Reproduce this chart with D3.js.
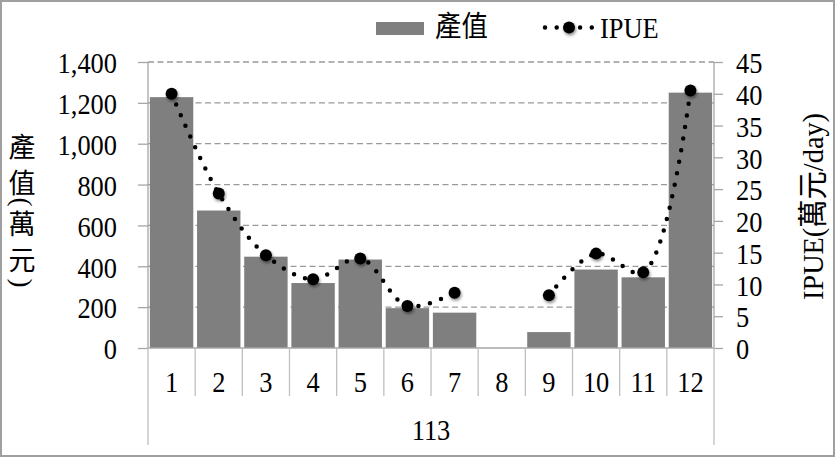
<!DOCTYPE html>
<html><head><meta charset="utf-8">
<script src="https://cdn.jsdelivr.net/npm/d3@7"></script>
<style>body{margin:0;background:#fff}svg{display:block}</style>
</head><body>
<svg id="c" width="835" height="457"></svg>
<script>
const categories = ["1","2","3","4","5","6","7","8","9","10","11","12"];
const groupLabel = "113";
const outputValues = [1228, 673, 447, 318, 433, 195, 173, 0, 78, 384, 346, 1250];
const ipueValues = [40.0, 24.3, 14.6, 10.8, 14.1, 6.6, 8.7, null, 8.3, 14.85, 11.9, 40.5];
const leftTicks = [0, 200, 400, 600, 800, 1000, 1200, 1400];
const rightTicks = [0, 5, 10, 15, 20, 25, 30, 35, 40, 45];
const seriesNames = ["產值", "IPUE"];
const leftTitle = "產值(萬元)";
const rightTitle = "IPUE(萬元/day)";

const W = 835, H = 457;
const X0 = 148, X1 = 714, YT = 62, YB = 348;
const FONT = "'Liberation Serif','Noto Sans CJK TC',serif";
const FS = 29, SQ = 0.91;
const svg = d3.select("#c");

function squeeze(sel, k) {
  sel.each(function () {
    const L = this.getComputedTextLength();
    d3.select(this).attr("textLength", L * k).attr("lengthAdjust", "spacingAndGlyphs");
  });
}

const defs = svg.append("defs");
const f = defs.append("filter").attr("id","sh").attr("x","-50%").attr("y","-50%").attr("width","200%").attr("height","200%");
f.append("feDropShadow").attr("dx",1).attr("dy",2).attr("stdDeviation",1.6).attr("flood-color","#000").attr("flood-opacity",0.45);

svg.append("rect").attr("x",1).attr("y",1).attr("width",W-2).attr("height",H-2)
  .attr("fill","#fff").attr("stroke","#a0a0a0").attr("stroke-width",2);

const x = d3.scaleBand().domain(categories).range([X0, X1]).paddingInner(0.08).paddingOuter(0.04);
const yL = d3.scaleLinear().domain([0, 1400]).range([YB, YT]);
const yR = d3.scaleLinear().domain([0, 45]).range([YB, YT]);

// gridlines
svg.append("g").selectAll("line").data(leftTicks.filter(d => d > 0)).join("line")
  .attr("x1", X0).attr("x2", X1).attr("y1", d => yL(d)).attr("y2", d => yL(d))
  .attr("stroke","#9a9a9a").attr("stroke-width",1.3).attr("stroke-dasharray","6,3.5");

// left axis
const gl = svg.append("g").attr("transform",`translate(${X0},0)`)
  .call(d3.axisLeft(yL).tickValues(leftTicks).tickSize(10).tickPadding(21).tickFormat(d3.format(",")));
gl.select(".domain").attr("stroke","#a6a6a6").attr("stroke-width",1.3).attr("d",`M0,${YT}V${YB}`);
gl.selectAll(".tick line").attr("stroke","#a6a6a6").attr("stroke-width",1.3);
gl.selectAll("text").attr("font-family",FONT).attr("font-size",FS).attr("fill","#000").attr("dy","0.37em").call(squeeze, SQ);

// right axis
const gr = svg.append("g").attr("transform",`translate(${X1},0)`)
  .call(d3.axisRight(yR).tickValues(rightTicks).tickSize(9).tickPadding(13));
gr.select(".domain").attr("stroke","#a6a6a6").attr("stroke-width",1.3).attr("d",`M0,${YT}V${YB}`);
gr.selectAll(".tick line").attr("stroke","#a6a6a6").attr("stroke-width",1.3);
gr.selectAll("text").attr("font-family",FONT).attr("font-size",FS).attr("fill","#000").attr("dy","0.37em").call(squeeze, SQ);

// bars
svg.append("g").selectAll("rect").data(categories).join("rect")
  .attr("x", d => x(d)).attr("width", x.bandwidth())
  .attr("y", (d,i) => yL(outputValues[i])).attr("height", (d,i) => YB - yL(outputValues[i]))
  .attr("fill","#7f7f7f");

// category axis
svg.append("line").attr("x1",X0).attr("x2",X1).attr("y1",YB).attr("y2",YB).attr("stroke","#a6a6a6").attr("stroke-width",1.3);
svg.append("g").selectAll("line").data(categories.slice(1)).join("line")
  .attr("x1", d => x(d) - x.step()*x.paddingInner()/2).attr("x2", d => x(d) - x.step()*x.paddingInner()/2)
  .attr("y1", YB).attr("y2", 396).attr("stroke","#bfbfbf").attr("stroke-width",1.3);
[X0, X1].forEach(v => svg.append("line").attr("x1",v).attr("x2",v).attr("y1",YB).attr("y2",445)
  .attr("stroke","#bfbfbf").attr("stroke-width",1.3));
svg.append("g").selectAll("text").data(categories).join("text")
  .attr("x", d => x(d) + x.bandwidth()/2).attr("y", 392).attr("text-anchor","middle")
  .attr("font-family",FONT).attr("font-size",FS).text(d => d).call(squeeze, SQ);
svg.append("text").attr("x",(X0+X1)/2).attr("y",440).attr("text-anchor","middle")
  .attr("font-family",FONT).attr("font-size",FS).text(groupLabel).call(squeeze, SQ);

// IPUE line
const pts = categories.map((c,i) => ({c, v: ipueValues[i]}));
const line = d3.line().defined(d => d.v != null)
  .x(d => x(d.c) + x.bandwidth()/2).y(d => yR(d.v)).curve(d3.curveCatmullRom.alpha(0.5));
svg.append("path").datum(pts).attr("d", line).attr("fill","none")
  .attr("stroke","#000").attr("stroke-width",4.5).attr("stroke-linecap","round").attr("stroke-dasharray","0,11.7");
svg.append("g").selectAll("circle").data(pts.filter(d => d.v != null)).join("circle")
  .attr("cx", d => x(d.c) + x.bandwidth()/2).attr("cy", d => yR(d.v)).attr("r",6)
  .attr("fill","#000").attr("filter","url(#sh)");

// legend
const lg = svg.append("g");
lg.append("rect").attr("x",376).attr("y",22).attr("width",48).attr("height",13).attr("fill","#7f7f7f");
lg.append("text").attr("x",435).attr("y",37).attr("font-family",FONT).attr("font-size",FS).text(seriesNames[0]).call(squeeze, SQ);
lg.append("line").attr("x1",545).attr("x2",592).attr("y1",27.5).attr("y2",27.5).attr("stroke","#000")
  .attr("stroke-width",4.5).attr("stroke-linecap","round").attr("stroke-dasharray","0,11.7");
lg.append("circle").attr("cx",569).attr("cy",27.5).attr("r",6).attr("fill","#000").attr("filter","url(#sh)");
lg.append("text").attr("x",600).attr("y",38).attr("font-family",FONT).attr("font-size",FS).text(seriesNames[1]).call(squeeze, SQ);

// left title (vertical, stacked)
const chars = Array.from(leftTitle);
const gaps = chars.map((ch, i) => i === 0 ? 0 : ch === "(" ? 18 : ch === ")" ? 22 : chars[i-1] === "(" ? 23 : 36);
let yy = 148;
const lt = svg.append("g");
chars.forEach((ch, i) => {
  yy += gaps[i];
  const t = lt.append("text").attr("font-family",FONT).attr("font-size",27)
    .attr("text-anchor","middle").attr("dominant-baseline","central").text(ch);
  if (ch === "(" || ch === ")") t.attr("transform",`translate(22,${yy}) rotate(90)`);
  else t.attr("x",22).attr("y",yy);
});

// right title
svg.append("text").attr("transform","translate(823,206.5) rotate(-90)").attr("text-anchor","middle")
  .attr("font-family",FONT).attr("font-size",30).attr("textLength",187).attr("lengthAdjust","spacingAndGlyphs").text(rightTitle);
</script>
</body></html>
